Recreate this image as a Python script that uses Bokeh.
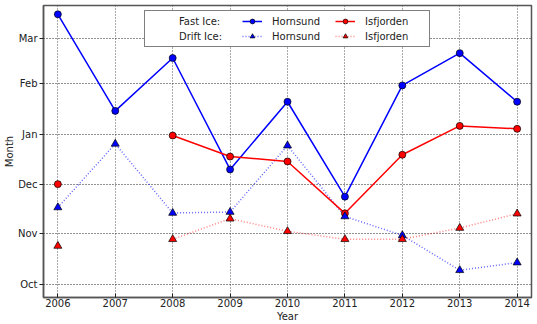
from bokeh.plotting import figure
from bokeh.models import (Range1d, FixedTicker, Legend, LegendItem, ColumnDataSource)
from bokeh.embed import file_html
from bokeh.resources import INLINE
import numpy as np

years = [2006, 2007, 2008, 2009, 2010, 2011, 2012, 2013, 2014]
# values: days since 1 October
fast_hornsund = [165.6, 106.4, 138.8, 70.5, 112.0, 53.8, 122.0, 141.8, 112.0]
fast_isfjorden = [61.5, np.nan, 91.3, 78.4, 75.4, 43.6, 79.5, 97.2, 95.4]
drift_hornsund = [47.2, 86.2, 43.8, 44.4, 85.1, 41.7, 30.1, 8.7, 13.4]
drift_isfjorden = [23.6, np.nan, 27.7, 40.3, 32.6, 27.7, 27.7, 34.6, 43.4]

month_ticks = [0, 31, 61, 92, 123, 151]
month_labels = ["Oct", "Nov", "Dec", "Jan", "Feb", "Mar"]

FONT = "DejaVu Sans"

p = figure(width=537, height=324, output_backend="svg", toolbar_location=None,
           x_range=Range1d(2005.75, 2014.25), y_range=Range1d(-8, 171),
           min_border_left=0, min_border_right=6, min_border_top=5, min_border_bottom=0)

p.background_fill_color = "white"
p.border_fill_color = "white"
p.outline_line_color = "#555555"
p.outline_line_width = 1.5

p.xaxis.ticker = FixedTicker(ticks=years)
p.yaxis.ticker = FixedTicker(ticks=month_ticks)
p.yaxis.major_label_overrides = {t: l for t, l in zip(month_ticks, month_labels)}
p.xaxis.axis_label = "Year"
p.yaxis.axis_label = "Month"

for ax in (p.xaxis, p.yaxis):
    ax.axis_line_color = "#555555"
    ax.axis_line_width = 1.5
    ax.minor_tick_line_color = None
    ax.major_label_text_font = FONT
    ax.major_label_text_font_size = "10px"
    ax.major_label_text_color = "#222222"
    ax.axis_label_text_font = FONT
    ax.axis_label_text_font_size = "10px"
    ax.axis_label_text_font_style = "normal"
    ax.axis_label_text_color = "#222222"
    ax.major_tick_line_color = "#222222"

p.xaxis.major_tick_in = 4
p.xaxis.major_tick_out = 0
p.xaxis.major_label_standoff = 1
p.xaxis.axis_label_standoff = 1
p.yaxis.major_tick_in = 0
p.yaxis.major_tick_out = 4
p.yaxis.major_label_standoff = 2
p.yaxis.axis_label_standoff = 0

for g in (p.xgrid, p.ygrid):
    g.grid_line_dash = "1 2"
    g.grid_line_width = 1
p.xgrid.grid_line_color = "#555555"
p.ygrid.grid_line_color = "#222222"
p.xgrid.ticker = FixedTicker(ticks=years)
p.ygrid.ticker = FixedTicker(ticks=month_ticks)

src = ColumnDataSource(dict(year=years, fh=fast_hornsund, fi=fast_isfjorden,
                            dh=drift_hornsund, di=drift_isfjorden))

l_dh = p.line("year", "dh", source=src, line_color="blue", line_width=1.5,
              line_dash="1 2", line_alpha=0.6)
l_di = p.line("year", "di", source=src, line_color="red", line_width=1.5,
              line_dash="1 2", line_alpha=0.5)
l_fh = p.line("year", "fh", source=src, line_color="blue", line_width=1.5)
l_fi = p.line("year", "fi", source=src, line_color="red", line_width=1.5)

m_fh = p.scatter("year", "fh", source=src, marker="circle", size=7,
                 fill_color="blue", line_color="black", line_width=0.7)
m_fi = p.scatter("year", "fi", source=src, marker="circle", size=7,
                 fill_color="red", line_color="black", line_width=0.7)
m_dh = p.scatter("year", "dh", source=src, marker="triangle", size=8,
                 fill_color="blue", line_color="black", line_width=0.7)
m_di = p.scatter("year", "di", source=src, marker="triangle", size=8,
                 fill_color="red", line_color="black", line_width=0.7)

blank1 = p.line([], [], line_alpha=0)
blank2 = p.line([], [], line_alpha=0)

items = [
    LegendItem(label="Fast Ice:", renderers=[blank1]),
    LegendItem(label="Hornsund", renderers=[l_fh, m_fh]),
    LegendItem(label="Isfjorden", renderers=[l_fi, m_fi]),
    LegendItem(label="Drift Ice:", renderers=[blank2]),
    LegendItem(label="Hornsund", renderers=[l_dh, m_dh]),
    LegendItem(label="Isfjorden", renderers=[l_di, m_di]),
]
legend = Legend(items=items, location="top_center", orientation="horizontal", ncols=3,
                label_text_font=FONT, label_text_font_size="10px", label_text_color="#222222",
                glyph_width=20, glyph_height=12, label_height=12, label_width=60,
                label_standoff=10, spacing=3, padding=4, margin=5,
                border_line_color="black", border_line_width=1.2,
                background_fill_color="white", background_fill_alpha=1)
p.add_layout(legend, "center")

open("out.html", "w").write(file_html(p, INLINE))
